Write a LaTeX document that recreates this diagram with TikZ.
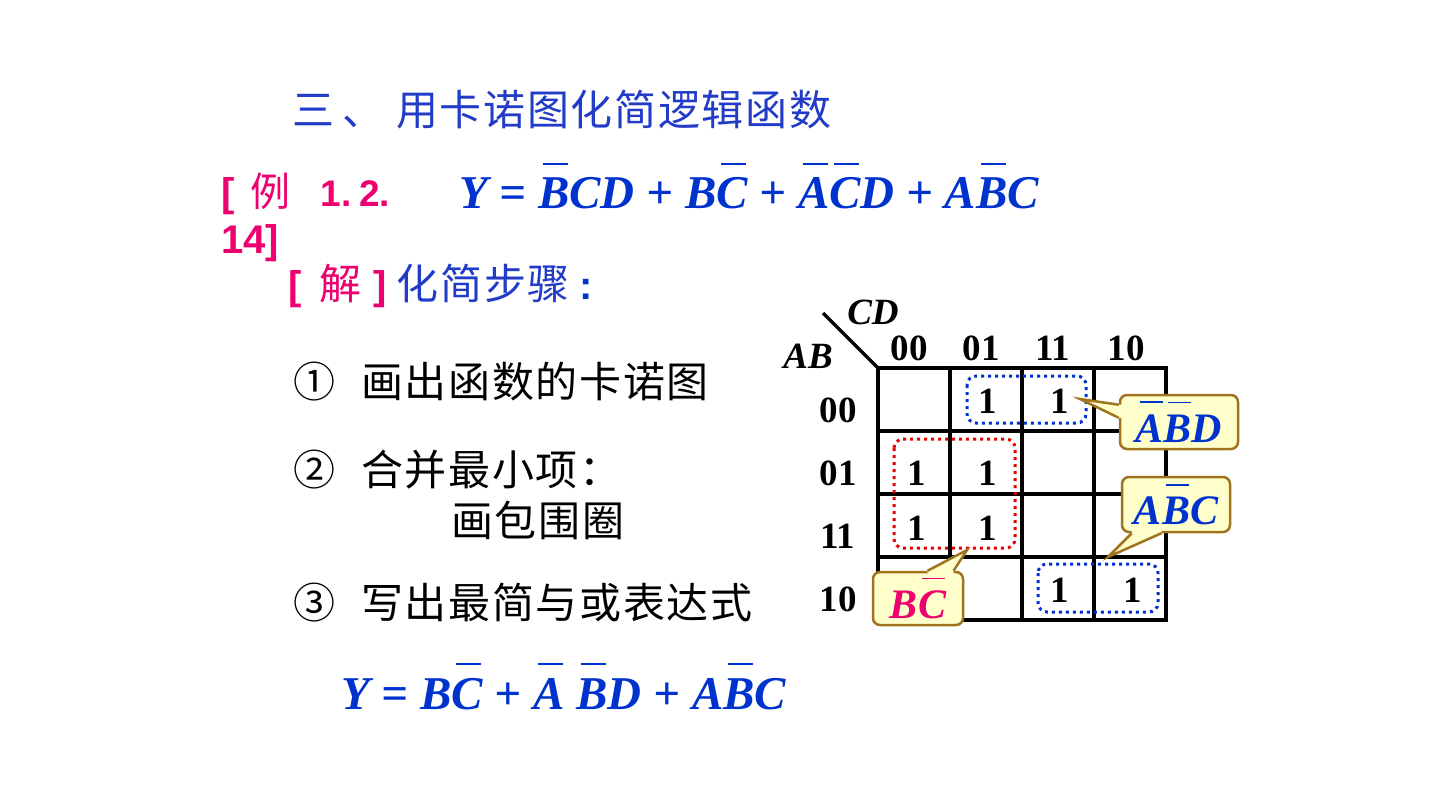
\documentclass[tikz,border=0pt]{standalone}
\usepackage{fontspec}
\setmainfont{Liberation Serif}
\newfontfamily\cjk{Noto Sans CJK SC}
\newfontfamily\cjkstep{Noto Sans CJK SC}[LetterSpace=4]
\newfontfamily\headsans{Liberation Sans}
\usetikzlibrary{positioning,calc}
\definecolor{titleblue}{RGB}{35,60,200}
\definecolor{fblue}{RGB}{0,50,205}
\definecolor{exppink}{RGB}{238,0,110}
\definecolor{loopred}{RGB}{235,0,0}
\definecolor{loopblue}{RGB}{0,50,205}
\definecolor{notefill}{RGB}{255,255,204}
\definecolor{noteline}{RGB}{160,115,30}
\newcommand{\pxsize}[1]{\fontsize{#1}{#1}\selectfont}
\newcommand{\nb}[1]{\setbox0=\hbox{#1}\vbox{\offinterlineskip\hbox to \wd0{\hskip .1em\leaders\hrule height .04em\hfil\hskip .03em}\kern .28em\box0}}
\tikzset{
  formula/.style={inner sep=0pt, text=fblue, font=\pxsize{47}\bfseries\itshape},
  exnum/.style={inner sep=0pt, text=exppink, font=\pxsize{37}\headsans\bfseries},
  stepline/.style={anchor=west, inner sep=0pt, font=\pxsize{42}\cjkstep},
  kmlabel/.style={inner sep=0pt, font=\pxsize{37}\bfseries},
  kmone/.style={inner sep=0pt, font=\pxsize{37}\bfseries},
  kmline/.style={line width=3.2pt},
  loopbox/.style={line width=3pt, dash pattern=on 3pt off 4pt, rounded corners=9pt},
  note/.style={draw=noteline, fill=notefill, line width=2.5pt, rounded corners=7pt,
    inner sep=0pt, text=fblue, font=\pxsize{42}\bfseries\itshape},
  notetip/.style={draw=noteline, line width=2.5pt}
}
\begin{document}
\begin{tikzpicture}[x=1pt,y=1pt,yscale=-1,xscale=1]
\useasboundingbox (0,0) rectangle (1440,810);

% Text Node
\node[anchor=west, inner sep=0pt, text=titleblue, font=\pxsize{42}\cjkstep] (title) at (292,110) {三\hspace{8pt}、\hspace{12pt}用卡诺图化简逻辑函数};

% Text Node
\node[exnum, anchor=base west] (exno) at (221,207) {{\pxsize{40}[}\hspace{16pt}{\cjk\mdseries\pxsize{40}例}\hspace{30pt}1.\hspace{8pt}2.};
% Text Node
\node[exnum, anchor=base west] (expage) at (221,254) {\pxsize{40}14]};
% Text Node
\node[formula, anchor=base west] (given) at (459,209) {Y = \nb{B}CD + B\nb{C} + \nb{A}\nb{C}D + A\nb{B}C};

% Text Node
\node[anchor=west, inner sep=0pt, font=\pxsize{40}] (sol) at (288,286) {{\color{exppink}\headsans\bfseries[\hspace{18pt}{\cjk\mdseries\pxsize{42}解}\hspace{12pt}]}\hspace{10pt}{\color{titleblue}\cjkstep\pxsize{42}化简步骤}\hspace{10pt}{\color{fblue}\headsans\bfseries:}};

% Text Node
\node[stepline] (s1) at (293,382) {①\hspace{26pt}画出函数的卡诺图};
% Text Node
\node[stepline] (s2) at (293,470) {②\hspace{26pt}合并最小项：};
% Text Node
\node[stepline] (s2b) at (451,520) {画包围圈};
% Text Node
\node[stepline] (s3) at (293,603) {③\hspace{26pt}写出最简与或表达式};

% Text Node
\node[formula, anchor=base west] (result) at (341,709) {Y = B\nb{C} + \nb{A}\hspace{12pt}\nb{B}D + A\nb{B}C};

%Shape: Karnaugh map
\draw[kmline] (878,368) rectangle (1166,620);
\foreach \i in {1,2,3} {
  \draw[kmline] (878+72*\i,368) -- (878+72*\i,620);
  \draw[kmline] (878,368+63*\i) -- (1166,368+63*\i);
}
%Straight Lines
\draw[kmline] (823,313) -- (878,368);

% Text Node
\node[kmlabel, font=\pxsize{37}\bfseries\itshape] (cd) at (873,312) {CD};
\node[kmlabel, font=\pxsize{37}\bfseries\itshape] (ab) at (808,356) {AB};
\node[kmlabel] (c00) at (909,348) {00};
\node[kmlabel] (c01) at (981,348) {01};
\node[kmlabel] (c11) at (1053,348) {11};
\node[kmlabel] (c10) at (1126,348) {10};
\node[kmlabel] (r00) at (838,410) {00};
\node[kmlabel] (r01) at (838,473) {01};
\node[kmlabel] (r11) at (838,536) {11};
\node[kmlabel] (r10) at (838,599) {10};

% Text Node
\node[kmone] (m1) at (988,401) {1};
\node[kmone] (m3) at (1060,401) {1};
\node[kmone] (m4) at (917,473) {1};
\node[kmone] (m5) at (988,473) {1};
\node[kmone] (m12) at (917,528) {1};
\node[kmone] (m13) at (988,528) {1};
\node[kmone] (m11) at (1060,590) {1};
\node[kmone] (m10) at (1133,590) {1};

%Shape: loops
\draw[loopbox, draw=loopblue] (967,376) rectangle (1086,423);
\draw[loopbox, draw=loopred] (894,439) rectangle (1015,548);
\draw[loopbox, draw=loopblue] (1038,564) rectangle (1158,612);

% Callouts
\coordinate (abdtip) at (1080,399);
\coordinate (abctip) at (1108,557);
\coordinate (bctip) at (967,550);
\node[note, minimum width=118pt, minimum height=54pt] (abd) at (1179,422) {\nb{A}\nb{B}D};
\node[note, minimum width=108pt, minimum height=55pt] (abc) at (1176,504.5) {A\nb{B}C};
\node[note, minimum width=90pt, minimum height=53pt, text=exppink] (bc) at (918,598.5) {B\nb{C}};
\fill[notefill] (abd.164) -- (abdtip) -- (abd.176) -- ($(abd.176)+(4,0)$) -- ($(abd.164)+(4,0)$) -- cycle;
\draw[notetip] (abd.164) -- (abdtip) -- (abd.176);
\fill[notefill] (abc.213) -- (abctip) -- (abc.243) -- ($(abc.243)+(0,-4)$) -- ($(abc.213)+(0,-4)$) -- cycle;
\draw[notetip] (abc.213) -- (abctip) -- (abc.243);
\fill[notefill] (bc.71) -- (bctip) -- (bc.38) -- ($(bc.38)+(0,4)$) -- ($(bc.71)+(0,4)$) -- cycle;
\draw[notetip] (bc.71) -- (bctip) -- (bc.38);

\end{tikzpicture}
\end{document}
